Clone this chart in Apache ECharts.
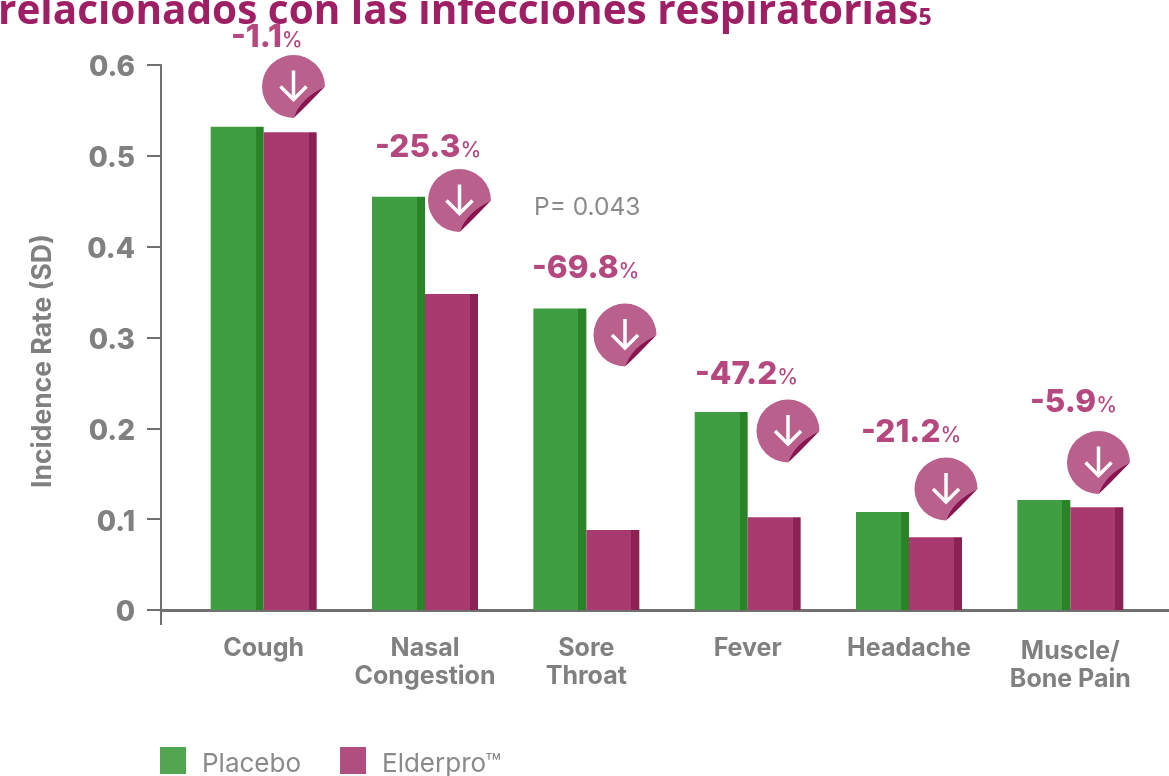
<!DOCTYPE html>
<html>
<head>
<meta charset="utf-8">
<script src="https://cdn.jsdelivr.net/npm/echarts@6/dist/echarts.min.js"></script>
<style>
html, body { margin: 0; padding: 0; background: #fff; overflow: hidden; }
#chart { width: 1169px; height: 776px; }
</style>
</head>
<body>
<div id="chart"></div>
<script>
var categories = ['Cough', 'Nasal\nCongestion', 'Sore\nThroat', 'Fever', 'Headache', 'Muscle/\nBone Pain']
var placebo = [0.532, 0.455, 0.332, 0.218, 0.108, 0.121]
var elderpro = [0.526, 0.348, 0.088, 0.102, 0.080, 0.113]
var changes = ['-1.1', '-25.3', '-69.8', '-47.2', '-21.2', '-5.9']

// annotation layout, pixels on the page
var changePos = [[231, 38], [375, 148], [532, 269], [695, 375], [861, 433], [1030, 403]]
var badgePos = [[293.5, 86.5], [459.5, 200.5], [625, 335], [788, 431], [946, 489], [1098.5, 462.5]]

var grey = '#808080'
var font = 'Inter'

function stripe(main, dark) {
	return new echarts.graphic.LinearGradient(0, 0, 1, 0, [
		{ offset: 0, color: main },
		{ offset: 0.85, color: main },
		{ offset: 0.85, color: dark },
		{ offset: 1, color: dark }
	])
}

function renderBadge(params, api) {
	return {
		type: 'group',
		x: api.value(0),
		y: api.value(1),
		children: [
			{ type: 'path', shape: { pathData: 'M31.5 0 A31.5 31.5 0 1 0 0 31.5 Q6 12 31.5 0 Z', x: -31.5, y: -31.5, width: 63, height: 63 }, style: { fill: '#b9608c' } },
			{ type: 'path', shape: { pathData: 'M31.5 0 Q6 12 0 31.5 Q4 28 14 18 Z', x: 0, y: 0, width: 31.5, height: 31.5 }, style: { fill: '#8a1550' } },
			{ type: 'line', shape: { x1: 0, y1: -16, x2: 0, y2: 13 }, style: { stroke: '#fff', lineWidth: 3.5 } },
			{ type: 'polyline', shape: { points: [[-13, 0], [0, 13], [13, 0]] }, style: { fill: 'none', stroke: '#fff', lineWidth: 3.5 } }
		]
	}
}

function changeText(label, i) {
	return {
		type: 'text',
		x: changePos[i][0],
		y: changePos[i][1],
		z: 30,
		style: {
			text: '{n|' + label + '}{p|%}',
			verticalAlign: 'middle',
			rich: {
				n: { font: '800 31.5px ' + font, fill: '#b5487f' },
				p: { font: '500 21px ' + font, fill: '#b5487f', padding: [5, 0, 0, 0] }
			}
		}
	}
}

var graphics = [{
	type: 'text',
	x: -2,
	y: 12,
	z: 10,
	style: {
		text: '{t|relacionados con las infecciones respiratorias}{s|5}',
		verticalAlign: 'middle',
		rich: {
			t: { font: '700 40.5px "Open Sans"', fill: '#9e1f63' },
			s: { font: '700 23px "Open Sans"', fill: '#9e1f63', padding: [12, 0, 0, 0] }
		}
	}
}, {
	type: 'text',
	x: 534,
	y: 208,
	style: { text: 'P= 0.043', font: '400 24.5px ' + font, fill: '#8a8a8a', verticalAlign: 'middle' }
}]
graphics = graphics.concat(changes.map(changeText))

var option = {
	animation: false,
	backgroundColor: '#fff',
	graphic: graphics,
	legend: {
		left: 160,
		top: 747,
		padding: 0,
		itemWidth: 26,
		itemHeight: 27,
		itemGap: 39,
		icon: 'rect',
		formatter: '{a|{name}}',
		textStyle: {
			rich: {
				a: { fontFamily: font, fontSize: 26, color: '#8a8a8a', padding: [8, 0, 0, 11] }
			}
		},
		data: [
			{ name: 'Placebo', itemStyle: { color: '#52a651' } },
			{ name: 'Elderpro™', itemStyle: { color: '#b04e80' } }
		]
	},
	grid: [
		// axis frame, wider than the bars
		{ left: 161, top: 65, width: 1008, height: 545 },
		{ left: 183, top: 65, width: 968, height: 545 }
	],
	xAxis: [{
		type: 'value',
		gridIndex: 0,
		min: 0,
		max: 1,
		axisLabel: { show: false },
		splitLine: { show: false },
		axisLine: { lineStyle: { color: '#707070', width: 3 } },
		axisTick: { show: true, customValues: [0], length: 15, lineStyle: { color: '#707070', width: 2 } }
	}, {
		type: 'category',
		gridIndex: 1,
		data: categories.map(function (name, i) {
			// last label sits a little lower in the source
			return i === categories.length - 1 ? { value: name, textStyle: { padding: [3, 0, 0, 0] } } : name
		}),
		axisLine: { show: false },
		axisTick: { show: false },
		axisLabel: {
			interval: 0,
			margin: 24,
			fontFamily: font,
			fontSize: 25,
			fontWeight: 700,
			lineHeight: 28,
			color: grey
		}
	}],
	yAxis: [{
		type: 'value',
		gridIndex: 0,
		min: 0,
		max: 0.6,
		interval: 0.1,
		name: 'Incidence Rate (SD)',
		nameLocation: 'middle',
		nameGap: 104,
		nameTextStyle: { fontFamily: font, fontSize: 26.5, fontWeight: 700, color: grey, padding: [0, 47, 0, 0] },
		splitLine: { show: false },
		axisLine: { show: true, lineStyle: { color: '#707070', width: 2 } },
		axisTick: { show: true, length: 14, lineStyle: { color: '#707070', width: 2 } },
		axisLabel: {
			margin: 26,
			formatter: function (v) { return '{v|' + (v === 0 ? '0' : v.toFixed(1)) + '}' },
			rich: {
				v: { fontFamily: font, fontSize: 28, fontWeight: 800, color: grey, padding: [6, 0, 0, 0] }
			}
		}
	}, {
		type: 'value',
		gridIndex: 1,
		min: 0,
		max: 0.6,
		show: false
	}],
	series: [{
		name: 'Placebo',
		type: 'bar',
		xAxisIndex: 1,
		yAxisIndex: 1,
		barWidth: 53,
		barGap: 0,
		data: placebo,
		itemStyle: { color: stripe('#3f9e41', '#2a8327') }
	}, {
		name: 'Elderpro™',
		type: 'bar',
		xAxisIndex: 1,
		yAxisIndex: 1,
		barWidth: 53,
		barGap: 0,
		data: elderpro,
		itemStyle: { color: stripe('#a83a6f', '#8c2253') }
	}, {
		name: 'badges',
		type: 'custom',
		coordinateSystem: 'none',
		silent: true,
		z: 20,
		data: badgePos,
		renderItem: renderBadge
	}]
}

var chart = echarts.init(document.getElementById('chart'))
chart.setOption(option)
</script>
</body>
</html>
